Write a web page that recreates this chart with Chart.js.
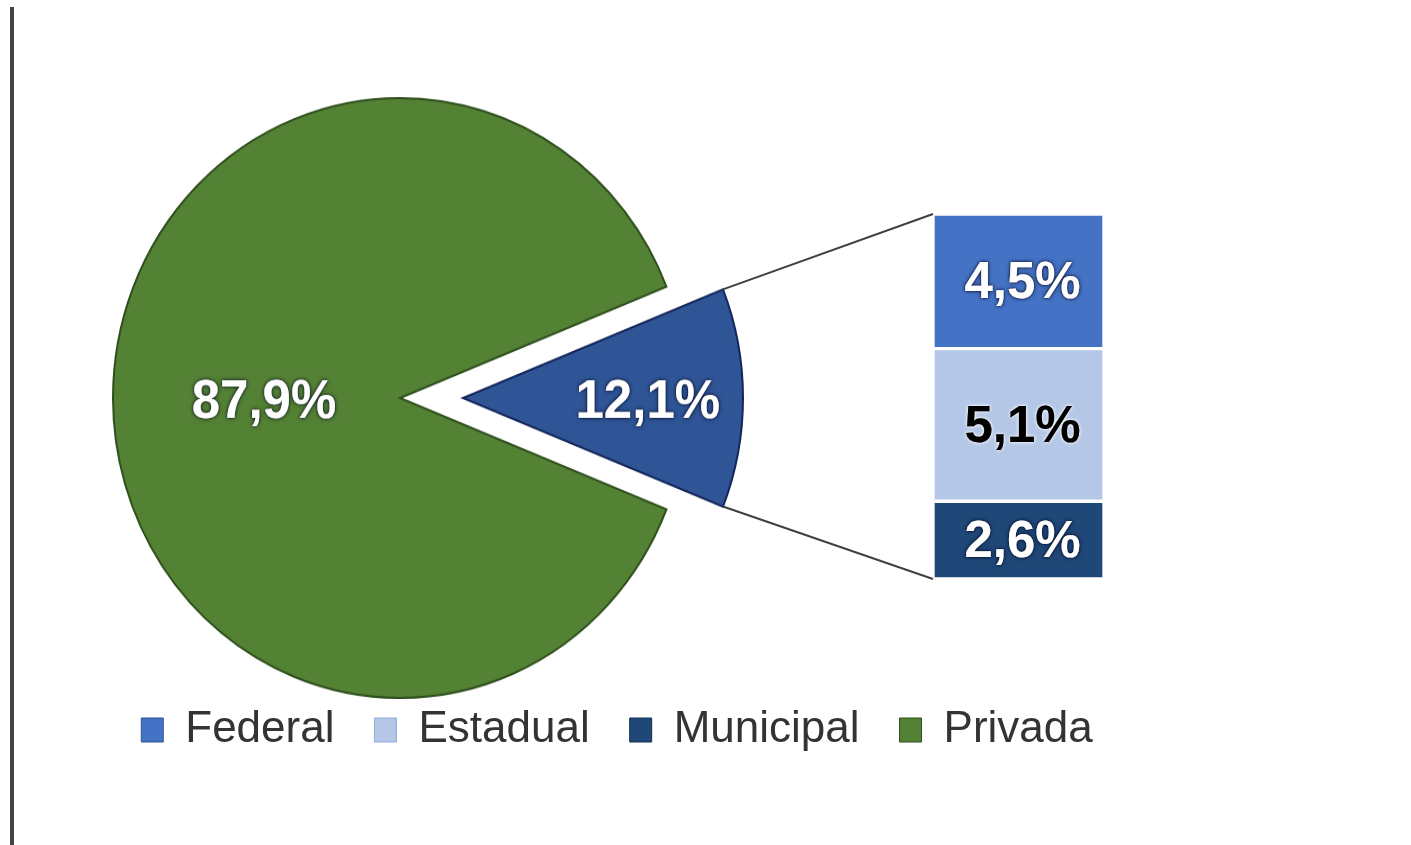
<!DOCTYPE html>
<html><head><meta charset="utf-8">
<script src="https://cdn.jsdelivr.net/npm/chart.js@4.4.1/dist/chart.umd.min.js"></script>
<style>
html,body{margin:0;padding:0;background:#fff;width:1411px;height:845px;overflow:hidden;}
#wrap{position:relative;width:1411px;height:845px;}
canvas{position:absolute;left:0;top:0;}
#pieGreen,#pieBlue{transform:scaleY(1.045);transform-origin:0 398px;}
#edge{position:absolute;left:10px;top:7px;width:4px;height:838px;background:#444;}
</style></head><body>
<div id="wrap">
<div id="edge"></div>
<canvas id="pieGreen" width="800" height="796"></canvas>
<canvas id="pieBlue" width="926" height="796"></canvas>
<canvas id="bar" width="1234" height="762"></canvas>
</div>
<script>
// ---- data ----
const pieCategories = ['Pública', 'Privada'];
const pieValues = [12.1, 87.9];
const barCategories = ['Federal', 'Estadual', 'Municipal'];
const barValues = [4.5, 5.1, 2.6];

// ---- styles ----
const GREEN = '#548235', GREEN_BORDER = '#2f4f1c';
const BLUE = '#2f5597', BLUE_BORDER = '#13265a';
const barColors = ['#4472c4', '#b4c7e7', '#1f4778'];
const barBorders = ['#2f528f', '#8faadc', '#13304f'];
const barLabelColors = ['#ffffff', '#000000', '#ffffff'];
const SY = 1.045, CY = 398;
const FONT = "'Liberation Sans', Arial, sans-serif";

Chart.defaults.font.family = FONT;

const fmt = v => v.toFixed(1).replace('.', ',') + '%';
const pieTotal = pieValues.reduce((a, b) => a + b, 0);
const barTotal = barValues.reduce((a, b) => a + b, 0);
const rotation = 90 - (pieValues[0] / pieTotal) * 180;

function drawLabel(ctx, text, x, y, color) {
  ctx.save();
  ctx.font = 'bold 51px ' + FONT;
  ctx.textAlign = 'center';
  ctx.textBaseline = 'middle';
  ctx.shadowColor = color === '#000000' ? 'rgba(255,255,255,0.95)' : 'rgba(0,0,30,0.75)';
  ctx.shadowBlur = 4;
  ctx.fillStyle = color;
  ctx.fillText(text, x, y);
  ctx.shadowBlur = 2;
  ctx.fillText(text, x, y);
  ctx.restore();
}

const sliceLabelPlugin = {
  id: 'sliceLabel',
  afterDatasetsDraw(chart, args, opts) {
    const arc = chart.getDatasetMeta(0).data[opts.index];
    const p = arc.getProps(['x', 'y', 'startAngle', 'endAngle', 'outerRadius'], true);
    const mid = (p.startAngle + p.endAngle) / 2;
    const r = p.outerRadius * opts.distance;
    drawLabel(chart.ctx, fmt(chart.data.datasets[0].data[opts.index]),
      p.x + Math.cos(mid) * r, p.y + Math.sin(mid) * r + opts.dy, opts.color);
  }
};

function pieConfig(radius, colors, borders, widths, labelOpts) {
  return {
    type: 'pie',
    data: {
      labels: pieCategories,
      datasets: [{ data: pieValues, backgroundColor: colors, borderColor: borders, borderWidth: widths, borderJoinStyle: 'miter' }]
    },
    options: {
      responsive: false, animation: false, events: [], devicePixelRatio: 1,
      radius: radius, rotation: rotation,
      layout: { padding: 0 },
      plugins: { legend: { display: false }, tooltip: { enabled: false }, sliceLabel: labelOpts }
    },
    plugins: [sliceLabelPlugin]
  };
}

const greenChart = new Chart(document.getElementById('pieGreen'),
  pieConfig(287, ['rgba(0,0,0,0)', GREEN], ['rgba(0,0,0,0)', GREEN_BORDER], [0, 2],
    { index: 1, distance: 0.474, dy: 5, color: '#ffffff' }));

const blueChart = new Chart(document.getElementById('pieBlue'),
  pieConfig(280, [BLUE, 'rgba(0,0,0,0)'], [BLUE_BORDER, 'rgba(0,0,0,0)'], [2, 0],
    { index: 0, distance: 0.66, dy: 5, color: '#ffffff' }));

const barLabelPlugin = {
  id: 'barLabels',
  afterDatasetsDraw(chart) {
    chart.data.datasets.forEach((ds, di) => {
      const el = chart.getDatasetMeta(di).data[0];
      const p = el.getProps(['x', 'y', 'base'], true);
      drawLabel(chart.ctx, fmt(ds.data[0]), p.x + 4, (p.y + p.base) / 2 + 3, ds.labelColor);
    });
  }
};

const connectorPlugin = {
  id: 'connectors',
  afterDatasetsDraw(chart) {
    const arc = blueChart.getDatasetMeta(0).data[0];
    const a = arc.getProps(['x', 'y', 'startAngle', 'endAngle', 'outerRadius'], true);
    const n = chart.data.datasets.length;
    const topEl = chart.getDatasetMeta(n - 1).data[0].getProps(['x', 'y', 'base', 'width'], true);
    const botEl = chart.getDatasetMeta(0).data[0].getProps(['x', 'y', 'base', 'width'], true);
    const tip = ang => [a.x + Math.cos(ang) * a.outerRadius, CY + (a.y + Math.sin(ang) * a.outerRadius - CY) * SY];
    const t1 = tip(a.startAngle), t2 = tip(a.endAngle);
    const ctx = chart.ctx;
    ctx.save();
    ctx.strokeStyle = '#404040';
    ctx.lineWidth = 2;
    ctx.beginPath();
    ctx.moveTo(t1[0], t1[1]);
    ctx.lineTo(topEl.x - topEl.width / 2, Math.min(topEl.y, topEl.base));
    ctx.moveTo(t2[0], t2[1]);
    ctx.lineTo(botEl.x - botEl.width / 2, Math.max(botEl.y, botEl.base));
    ctx.stroke();
    ctx.restore();
  }
};

// stacked bottom-to-top: Municipal, Estadual, Federal
const barDatasets = [];
for (let i = barCategories.length - 1; i >= 0; i--) {
  barDatasets.push({
    label: barCategories[i],
    data: [barValues[i]],
    backgroundColor: barColors[i],
    borderColor: '#ffffff',
    borderWidth: 2,
    borderSkipped: false,
    labelColor: barLabelColors[i],
    barPercentage: 1,
    categoryPercentage: 1
  });
}

const hiddenAxis = { ticks: { display: false }, grid: { display: false }, border: { display: false } };

new Chart(document.getElementById('bar'), {
  type: 'bar',
  data: { labels: [pieCategories[0]], datasets: barDatasets },
  options: {
    responsive: false, animation: false, events: [], devicePixelRatio: 1,
    layout: { padding: { top: 214, left: 0, right: 0, bottom: 0 } },
    scales: {
      x: { ...hiddenAxis, stacked: true, afterFit(s) { s.height = 89; } },
      y: { ...hiddenAxis, stacked: true, min: 0, max: barTotal, afterFit(s) { s.width = 933; } },
      yRight: { ...hiddenAxis, type: 'linear', position: 'right', afterFit(s) { s.width = 130; } }
    },
    plugins: {
      tooltip: { enabled: false },
      legend: {
        position: 'bottom',
        labels: {
          boxWidth: 22, boxHeight: 24, padding: 40,
          font: { size: 44, family: FONT },
          color: '#333333',
          generateLabels() {
            const items = barCategories.map((c, i) => ({
              text: c, fillStyle: barColors[i], strokeStyle: barBorders[i], lineWidth: 1, hidden: false, fontColor: '#333333'
            }));
            items.push({ text: pieCategories[1], fillStyle: GREEN, strokeStyle: GREEN_BORDER, lineWidth: 1, hidden: false, fontColor: '#333333' });
            return items;
          }
        }
      }
    }
  },
  plugins: [barLabelPlugin, connectorPlugin]
});
</script>
</body></html>
